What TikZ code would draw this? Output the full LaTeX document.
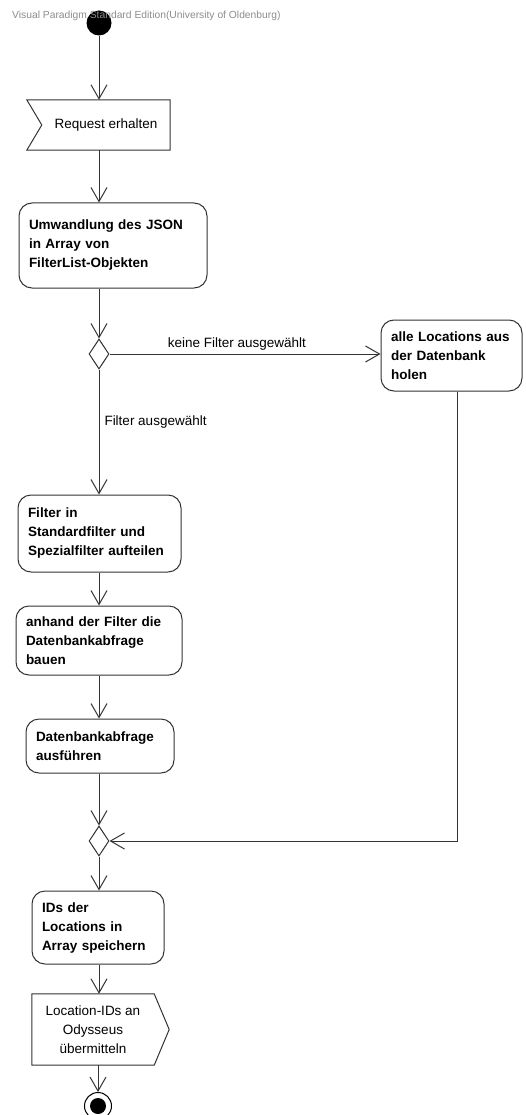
\documentclass[tikz,border=0pt]{standalone}
\usepackage{fontspec}
\setmainfont{Liberation Sans}
\usetikzlibrary{arrows.meta,shapes.geometric}

\definecolor{edgegray}{gray}{0.2}
\definecolor{markgray}{gray}{0.55}

\tikzset{
	flow/.style={draw=edgegray, line width=1pt, -{Straight Barb[length=14pt,width=16pt]}},
	outline/.style={draw=edgegray, line width=1pt, line join=miter},
	action/.style 2 args={draw=edgegray, line width=1pt, rounded corners=13pt, align=left,
		font=\fontsize{13.5}{19}\selectfont\bfseries, inner xsep=10pt, inner ysep=0pt,
		text width=#1pt-20pt, minimum height=#2pt},
	signalbox/.style 2 args={inner sep=0pt, align=center, font=\fontsize{13.5}{19}\selectfont,
		minimum width=#1pt, minimum height=#2pt},
	decision/.style={diamond, draw=edgegray, line width=1pt, fill=white, inner sep=0pt,
		minimum width=20pt, minimum height=30pt},
	guard/.style={inner sep=1pt, font=\fontsize{13.5}{16}\selectfont},
	initial/.style={circle, fill=black, inner sep=0pt, minimum size=25pt},
	final/.style={circle, draw=black, line width=1pt, fill=white, inner sep=0pt, minimum size=27pt}
}

\begin{document}
\begin{tikzpicture}[x=1pt, y=-1pt]
	\useasboundingbox (0,0) rectangle (525,1115);

	\node[initial] (start) at (99,23) {};
	\node[anchor=west, inner sep=0pt, text=markgray, font=\fontsize{10.3}{12}\selectfont] (vp) at (12,16)
		{Visual Paradigm Standard Edition(University of Oldenburg)};

	\node[signalbox={128}{50}] (req) at (106,125) {Request erhalten};
	\draw[outline] (req.north east) -- (req.south east) -- ([xshift=-15pt]req.south west)
		-- (req.west) -- ([xshift=-15pt]req.north west) -- cycle;

	\node[action={188}{85}] (json) at (113,245.5) {Umwandlung des JSON\\in Array von\\FilterList-Objekten};
	\node[decision] (dec1) at (99,354) {};
	\node[action={141}{71}] (locs) at (451.5,355.5) {alle Locations aus\\der Datenbank\\holen};
	\node[action={163}{77}] (split) at (99.5,533.5) {Filter in\\Standardfilter und\\Spezialfilter aufteilen};
	\node[action={166}{69}] (build) at (99,640.5) {anhand der Filter die\\Datenbankabfrage\\bauen};
	\node[action={148}{54}] (exec) at (100,746) {Datenbankabfrage\\ausführen};
	\node[decision] (dec2) at (99,841) {};
	\node[action={132}{73}] (ids) at (98,927.5) {IDs der\\Locations in\\Array speichern};

	\node[signalbox={122}{71}] (send) at (93,1029.5) {Location-IDs an\\Odysseus\\übermitteln};
	\draw[outline] (send.north west) -- (send.north east) -- ([xshift=15pt]send.east)
		-- (send.south east) -- (send.south west) -- cycle;

	\node[final] (end) at (98,1106) {};
	\fill (end) circle (8pt);

	\foreach \a/\b in {start/req, req/json, json/dec1, split/build, build/exec, exec/dec2, dec2/ids, ids/send}
		\draw[flow] (dec1 |- \a.south) -- (dec1 |- \b.north);
	\draw[flow] (end |- send.south) -- (end.north);

	\draw[flow] (dec1.east) -- (dec1.east -| locs.west)
		node[guard, pos=0.47, above=2pt] {keine Filter ausgewählt};
	\draw[flow] (dec1.south) -- (dec1 |- split.north)
		node[guard, pos=0.42, right=4pt] {Filter ausgewählt};
	\draw[flow] ([xshift=5.5pt]locs.south) |- (dec2.east);
\end{tikzpicture}
\end{document}
